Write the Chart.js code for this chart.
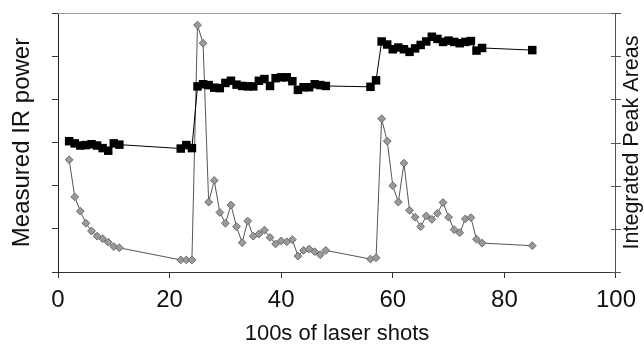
<!DOCTYPE html>
<html>
<head>
<meta charset="utf-8">
<script src="https://cdn.jsdelivr.net/npm/chart.js@4"></script>
<style>
  html, body { margin: 0; padding: 0; background: #fff; }
  #wrap { width: 644px; height: 349px; }
</style>
</head>
<body>
<div id="wrap"><canvas id="chart"></canvas></div>
<script>
// 100s of laser shots
const shots = [
  2, 3, 4, 5, 6, 7, 8, 9, 10, 11,
  22, 23, 24, 25, 26, 27, 28, 29, 30, 31, 32, 33, 34, 35, 36, 37, 38, 39, 40,
  41, 42, 43, 44, 45, 46, 47, 48,
  56, 57, 58, 59, 60, 61, 62, 63, 64, 65, 66, 67, 68, 69, 70, 71, 72, 73, 74,
  75, 76,
  85
]

// measured IR power (black squares, left axis)
const irPower = [
  3.03, 2.98, 2.93, 2.94, 2.96, 2.93, 2.87, 2.81, 2.98, 2.95,
  2.86, 2.94, 2.87, 4.30, 4.35, 4.33, 4.27, 4.26, 4.38, 4.43, 4.34, 4.31, 4.30,
  4.30, 4.43, 4.47, 4.31, 4.49, 4.51, 4.51, 4.42, 4.22, 4.28, 4.28, 4.35, 4.33,
  4.31,
  4.29, 4.44, 5.34, 5.27, 5.16, 5.20, 5.16, 5.10, 5.18, 5.26, 5.34, 5.45, 5.40,
  5.33, 5.36, 5.33, 5.30, 5.33, 5.35, 5.13, 5.19,
  5.14
]

// integrated peak areas (grey diamonds, right axis)
const peakAreas = [
  2.60, 1.74, 1.41, 1.13, 0.95, 0.83, 0.77, 0.69, 0.59, 0.56,
  0.28, 0.28, 0.28, 5.72, 5.30, 1.62, 2.12, 1.38, 1.13, 1.55, 1.05, 0.68, 1.18,
  0.83, 0.88, 0.97, 0.80, 0.65, 0.72, 0.70, 0.75, 0.37, 0.50, 0.53, 0.47, 0.40,
  0.50,
  0.30, 0.33, 3.55, 3.03, 2.00, 1.62, 2.52, 1.43, 1.27, 1.05, 1.30, 1.22, 1.36,
  1.61, 1.27, 0.98, 0.91, 1.23, 1.26, 0.76, 0.67,
  0.61
]

const xTicks = [0, 20, 40, 60, 80, 100]
const yTicks = [0, 1, 2, 3, 4, 5, 6]

const FONT = '"Liberation Sans", Arial, Helvetica, sans-serif'
const INK = '#111'

const toPoints = (values) => shots.map((x, i) => ({ x: x, y: values[i] }))

// cadre du haut, ticks traversants et titre de droite (lu de bas en haut)
const framePlugin = {
  id: 'frame',
  afterDraw(chart) {
    const { ctx, chartArea } = chart
    const y2 = chart.scales.y2
    ctx.save()
    ctx.strokeStyle = '#9a9a9a'
    ctx.lineWidth = 1
    ctx.beginPath()
    ctx.moveTo(chartArea.left, chartArea.top + 0.5)
    ctx.lineTo(chartArea.right, chartArea.top + 0.5)
    ctx.stroke()

    ctx.strokeStyle = '#555'
    ctx.beginPath()
    yTicks.forEach(v => {
      const py = Math.round(y2.getPixelForValue(v)) + 0.5
      ctx.moveTo(chartArea.right - 5, py)
      ctx.lineTo(chartArea.right + 5, py)
    })
    ctx.stroke()

    ctx.translate(632, (chartArea.top + chartArea.bottom) / 2)
    ctx.rotate(-Math.PI / 2)
    ctx.fillStyle = INK
    ctx.font = '21.5px ' + FONT
    ctx.textAlign = 'center'
    ctx.textBaseline = 'middle'
    ctx.fillText('Integrated Peak Areas', 0, 0)
    ctx.restore()
  }
}

new Chart(document.getElementById('chart'), {
  type: 'line',
  data: {
    datasets: [
      {
        label: 'Measured IR power',
        data: toPoints(irPower),
        yAxisID: 'y',
        borderColor: '#000',
        borderWidth: 1,
        backgroundColor: '#000',
        pointStyle: 'rect',
        pointRadius: 6,
        pointBorderWidth: 0,
        tension: 0
      },
      {
        label: 'Integrated Peak Areas',
        data: toPoints(peakAreas),
        yAxisID: 'y2',
        borderColor: '#555',
        borderWidth: 1,
        backgroundColor: '#9a9a9a',
        pointBorderColor: '#6a6a6a',
        pointStyle: 'rectRot',
        pointRadius: 3.9,
        pointBorderWidth: 1,
        tension: 0
      }
    ]
  },
  options: {
    responsive: true,
    maintainAspectRatio: false,
    animation: false,
    layout: { padding: { top: 13, left: 0, right: 0, bottom: 0 } },
    plugins: {
      legend: { display: false },
      tooltip: { enabled: false }
    },
    scales: {
      x: {
        type: 'linear',
        min: 0,
        max: 100,
        afterBuildTicks: (axis) => { axis.ticks = xTicks.map(v => ({ value: v })) },
        afterFit: (axis) => { axis.height = 77 },
        border: { color: '#333', width: 1 },
        grid: { drawOnChartArea: false, tickLength: 6, color: '#333' },
        ticks: {
          padding: 8,
          color: INK,
          font: { family: FONT, size: 24 },
          maxRotation: 0
        },
        title: {
          display: true,
          text: '100s of laser shots',
          color: INK,
          font: { family: FONT, size: 22 },
          padding: { top: 0, bottom: 2 }
        }
      },
      y: {
        position: 'left',
        min: 0,
        max: 6,
        afterBuildTicks: (axis) => { axis.ticks = yTicks.map(v => ({ value: v })) },
        afterFit: (axis) => { axis.width = 58 },
        border: { color: '#222', width: 1 },
        grid: { drawOnChartArea: false, tickLength: 6, color: '#333' },
        ticks: { display: false },
        title: {
          display: true,
          text: 'Measured IR power',
          color: INK,
          font: { family: FONT, size: 24 },
          padding: { top: 8, bottom: 0 }
        }
      },
      y2: {
        position: 'right',
        min: 0,
        max: 6,
        afterBuildTicks: (axis) => { axis.ticks = yTicks.map(v => ({ value: v })) },
        afterFit: (axis) => { axis.width = 26 },
        border: { color: '#555', width: 1 },
        grid: { drawOnChartArea: false, drawTicks: false },
        ticks: { display: false }
      }
    }
  },
  plugins: [framePlugin]
})
</script>
</body>
</html>
